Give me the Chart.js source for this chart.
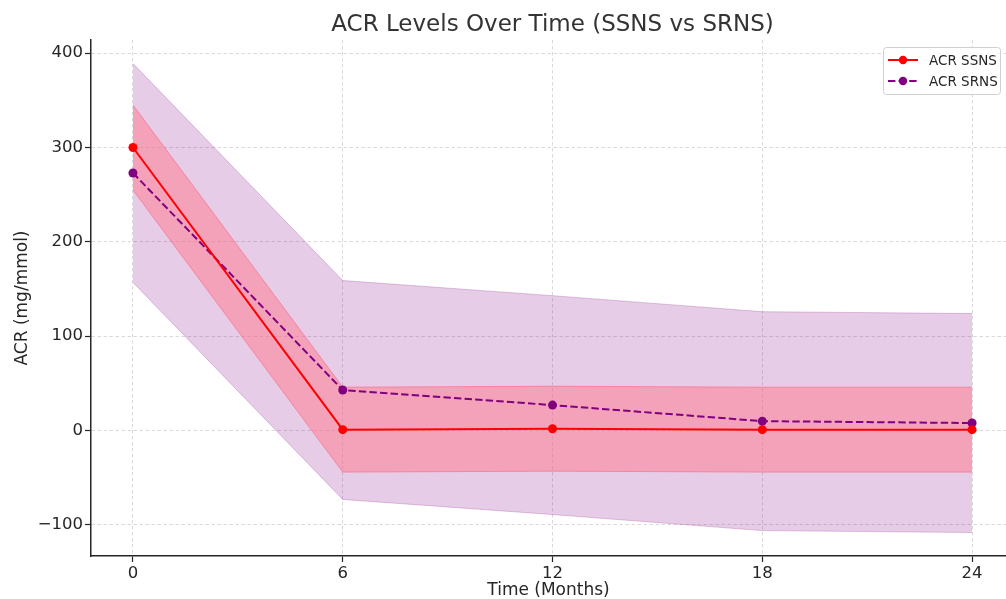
<!DOCTYPE html>
<html>
<head>
<meta charset="utf-8">
<script src="https://cdn.jsdelivr.net/npm/chart.js@4.4.1/dist/chart.umd.min.js"></script>
<style>
html,body{margin:0;padding:0;background:#fff;overflow:hidden;}
#wrap{width:1006px;height:599px;}
</style>
</head>
<body>
<div id="wrap"><canvas id="c" width="1006" height="599"></canvas></div>
<script>
const months = [0, 6, 12, 18, 24];
const ssnsMean  = [300, 1, 2, 1, 1];
const ssnsUpper = [345, 46, 47, 46, 46];
const ssnsLower = [255, -44, -43, -44, -44];
const srnsMean  = [273, 43, 27, 10, 8];
const srnsUpper = [389, 159, 143, 126, 124];
const srnsLower = [157, -73, -89, -106, -108];
const xTicks = [0, 6, 12, 18, 24];
const yTicks = [-100, 0, 100, 200, 300, 400];
const seriesNames = ['ACR SSNS', 'ACR SRNS'];

const pts = arr => months.map((m, i) => ({x: m, y: arr[i]}));
const FONT = "'DejaVu Sans', sans-serif";
const TXT = '#262626';

const titleShift = {
  id: 'titleShift',
  afterLayout(chart) {
    const t = chart.titleBlock;
    if (t) { t.left += 4; t.right += 4; }
  }
};

const legendPlugin = {
  id: 'mplLegend',
  afterDraw(chart) {
    const ctx = chart.ctx;
    const x0 = 883, y0 = 47, w = 117, h = 47;
    ctx.save();
    ctx.beginPath();
    ctx.roundRect(x0 + 0.5, y0 + 0.5, w, h, 3);
    ctx.fillStyle = 'rgba(255,255,255,0.85)';
    ctx.fill();
    ctx.strokeStyle = '#d0d0d0';
    ctx.lineWidth = 1;
    ctx.stroke();
    const entries = [chart.data.datasets[0], chart.data.datasets[1]];
    entries.forEach((ds, i) => {
      const cy = y0 + 13 + i * 21;
      ctx.beginPath();
      ctx.setLineDash(ds.borderDash || []);
      ctx.strokeStyle = ds.borderColor;
      ctx.lineWidth = 2;
      ctx.moveTo(x0 + 5, cy);
      ctx.lineTo(x0 + 35, cy);
      ctx.stroke();
      ctx.setLineDash([]);
      ctx.beginPath();
      ctx.arc(x0 + 20, cy, 4.2, 0, Math.PI * 2);
      ctx.fillStyle = ds.borderColor;
      ctx.fill();
      ctx.fillStyle = TXT;
      ctx.font = "13.5px " + FONT;
      ctx.textBaseline = 'middle';
      ctx.textAlign = 'left';
      ctx.fillText(ds.label, x0 + 46, cy + 1);
    });
    ctx.restore();
  }
};

new Chart(document.getElementById('c'), {
  type: 'line',
  data: {
    datasets: [
      {label: seriesNames[0], data: pts(ssnsMean), borderColor: '#ff0000', backgroundColor: '#ff0000',
       borderWidth: 2, pointRadius: 4.5, pointBackgroundColor: '#ff0000', pointBorderWidth: 0, fill: false, tension: 0},
      {label: seriesNames[1], data: pts(srnsMean), borderColor: '#800080', backgroundColor: '#800080',
       borderWidth: 2, borderDash: [7.4, 3.2], pointRadius: 4.5, pointBackgroundColor: '#800080', pointBorderWidth: 0, fill: false, tension: 0},
      {label: 'ssnsUpper', data: pts(ssnsUpper), borderColor: 'rgba(255,90,120,0.55)', borderWidth: 1, pointRadius: 0, fill: false},
      {label: 'ssnsLower', data: pts(ssnsLower), borderColor: 'rgba(255,90,120,0.55)', borderWidth: 1, pointRadius: 0,
       fill: 2, backgroundColor: 'rgba(255,120,142,0.5)'},
      {label: 'srnsUpper', data: pts(srnsUpper), borderColor: 'rgba(128,0,128,0.22)', borderWidth: 1, pointRadius: 0, fill: false},
      {label: 'srnsLower', data: pts(srnsLower), borderColor: 'rgba(128,0,128,0.22)', borderWidth: 1, pointRadius: 0,
       fill: 4, backgroundColor: 'rgba(128,0,128,0.2)'}
    ]
  },
  options: {
    responsive: false,
    animation: false,
    devicePixelRatio: 1,
    layout: {autoPadding: false, padding: {left: 0, right: 0, top: 0, bottom: 0}},
    plugins: {
      legend: {display: false},
      tooltip: {enabled: false},
      title: {
        display: true,
        text: 'ACR Levels Over Time (SSNS vs SRNS)',
        color: '#333333',
        fullSize: false,
        font: {family: FONT, size: 23, weight: 'normal', lineHeight: 1.2},
        padding: {top: 11, bottom: 1.4}
      }
    },
    scales: {
      x: {
        type: 'linear',
        min: -1.2,
        max: 24.97,
        afterFit(s) { s.height = 43; s.paddingLeft = 0; s.paddingRight = 0; },
        afterBuildTicks(s) { s.ticks = xTicks.map(v => ({value: v})); },
        ticks: {color: TXT, font: {family: FONT, size: 16.5}, padding: 2, maxRotation: 0},
        grid: {color: '#cfcfcf', lineWidth: 0.8, drawTicks: true, tickLength: 6, tickColor: '#262626', tickWidth: 1.2},
        border: {display: true, color: '#262626', width: 1.5, dash: [3.5, 2.5]},
        title: {display: true, text: 'Time (Months)', color: TXT, font: {family: FONT, size: 17, lineHeight: 1.0}, padding: {top: 0, bottom: 0}}
      },
      y: {
        type: 'linear',
        min: -132.9,
        max: 413.9,
        afterFit(s) { s.width = 91; },
        afterBuildTicks(s) { s.ticks = yTicks.map(v => ({value: v})); },
        ticks: {color: TXT, font: {family: FONT, size: 16.5}, padding: 2,
                callback: v => (v < 0 ? '\u2212' + Math.abs(v) : String(v))},
        grid: {color: '#cfcfcf', lineWidth: 0.8, drawTicks: true, tickLength: 6, tickColor: '#262626', tickWidth: 1.2},
        border: {display: true, color: '#262626', width: 1.5, dash: [3.5, 2.5]},
        title: {display: true, text: 'ACR (mg/mmol)', color: TXT, font: {family: FONT, size: 17}, padding: {top: 12, bottom: 0}}
      }
    }
  },
  plugins: [legendPlugin, titleShift]
});
</script>
</body>
</html>
